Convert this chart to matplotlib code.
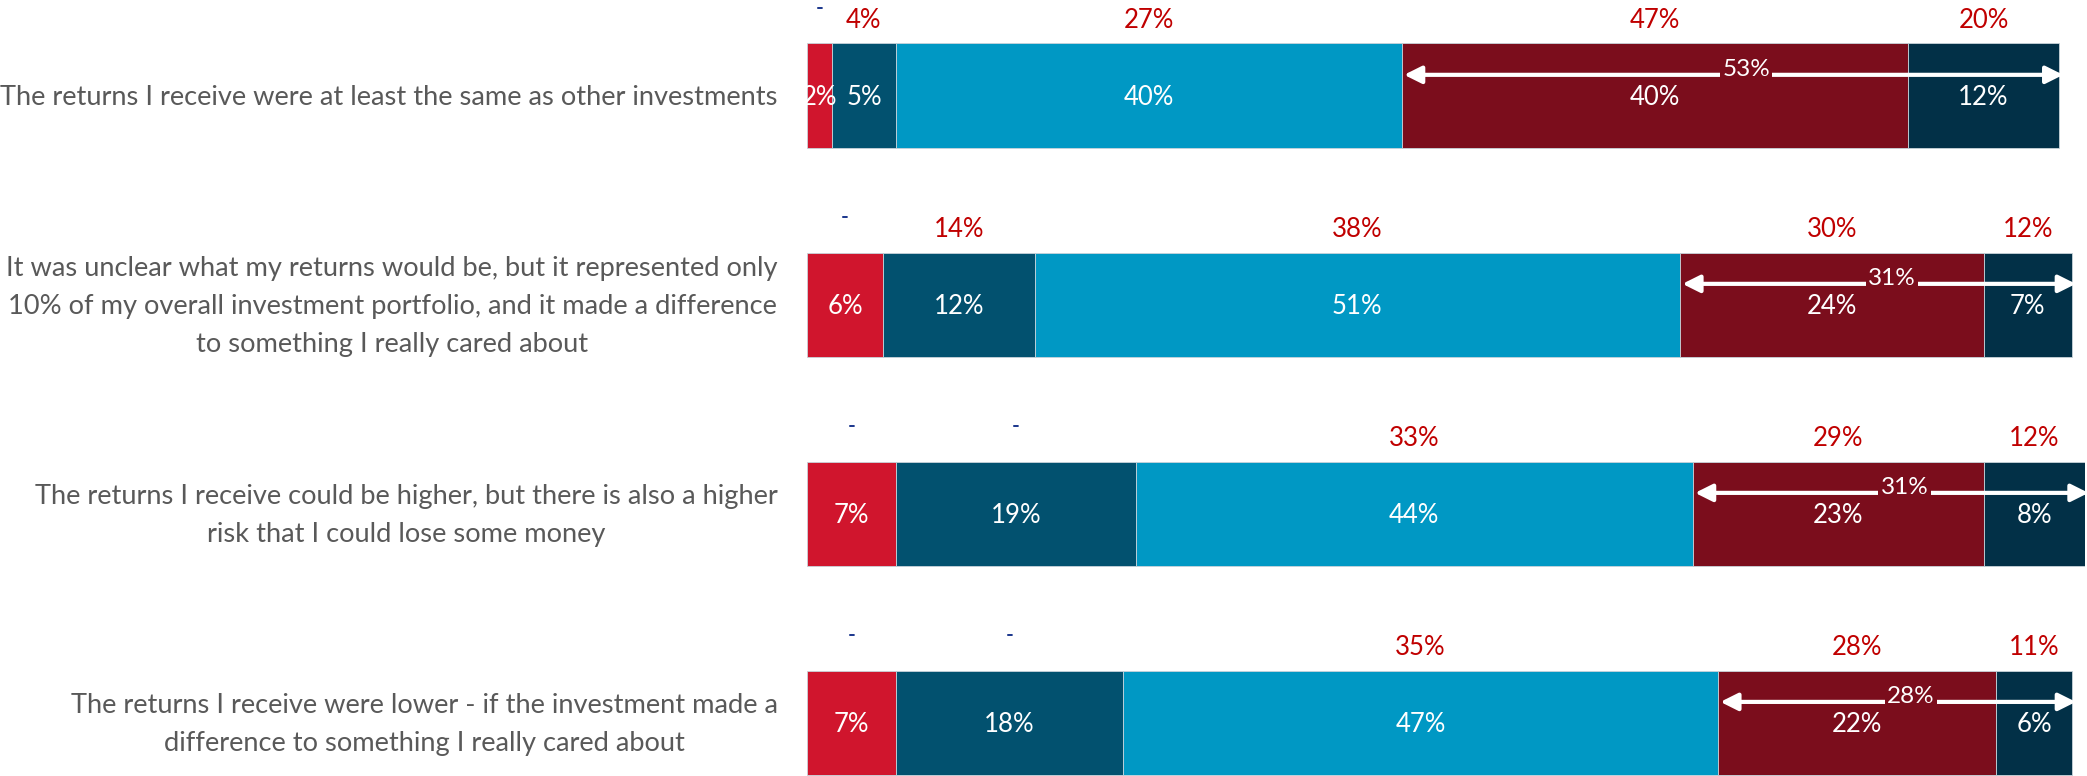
import numpy as np
import matplotlib.pyplot as plt

plt.rcParams['font.family'] = ['Lato', 'DejaVu Sans']

categories = [
    'The returns I receive were at least the same as other investments',
    'It was unclear what my returns would be, but it represented only\n'
    '10% of my overall investment portfolio, and it made a difference\n'
    'to something I really cared about',
    'The returns I receive could be higher, but there is also a higher\n'
    'risk that I could lose some money',
    'The returns I receive were lower - if the investment made a\n'
    'difference to something I really cared about',
]

# share of respondents per answer band (%), one list per band
band_1 = [2, 6, 7, 7]
band_2 = [5, 12, 19, 18]
band_3 = [40, 51, 44, 47]
band_4 = [40, 24, 23, 22]
band_5 = [12, 7, 8, 6]

# comparison figures shown above each band (None -> "-")
comp_1 = [None, None, None, None]
comp_2 = [4, 14, None, None]
comp_3 = [27, 38, 33, 35]
comp_4 = [47, 30, 29, 28]
comp_5 = [20, 12, 12, 11]

# combined top two bands
top_two = [53, 31, 31, 28]

bands = [band_1, band_2, band_3, band_4, band_5]
comps = [comp_1, comp_2, comp_3, comp_4, comp_5]
colors = ['#D0152D', '#02516F', '#0098C4', '#7B0D1C', '#023047']

fig = plt.figure(figsize=(20.87, 7.76), dpi=100)
ax = fig.add_axes([0.3867, 0.0, 0.6122, 1.0])

y = np.arange(len(categories))
left = np.zeros(len(categories))
for vals, comp, col in zip(bands, comps, colors):
    vals = np.array(vals, dtype=float)
    ax.barh(y, vals, left=left, height=0.5, color=col,
            edgecolor='#c8d3da', linewidth=0.6)
    centers = left + vals / 2
    for i in range(len(y)):
        ax.text(centers[i], y[i] + 0.01, f'{int(vals[i])}%', ha='center', va='center',
                color='white', fontsize=18.5)
        if comp[i] is None:
            ax.text(centers[i], y[i] - 0.42, '-', ha='center', va='center',
                    color='#1F3A8F', fontsize=15, fontweight='bold')
        else:
            ax.text(centers[i], y[i] - 0.36, f'{comp[i]}%', ha='center', va='center',
                    color='#C00000', fontsize=18.5)
    left += vals

# arrow spanning the two top bands
start_top = np.array(band_1) + np.array(band_2) + np.array(band_3)
for i in range(len(y)):
    x0 = start_top[i] + 0.2
    x1 = left[i] + 0.3
    ann = ax.annotate('', xy=(x0, y[i] - 0.1), xytext=(x1, y[i] - 0.1),
                      arrowprops=dict(arrowstyle='<|-|>', color='white', lw=3,
                                      mutation_scale=26, shrinkA=0, shrinkB=0),
                      annotation_clip=False)
    ann.arrow_patch.set_clip_on(False)
    ax.text((x0 + x1) / 2 + 1.0, y[i] - 0.125, f'{top_two[i]}%', ha='center', va='center',
            color='white', fontsize=17.5,
            bbox=dict(facecolor=colors[3], edgecolor='none', pad=1.5))

for i, cat in enumerate(categories):
    ax.text(-2.3, y[i] + 0.01, cat, ha='right', va='center', multialignment='center',
            color='#595959', fontsize=19.6, linespacing=1.65)

ax.set_xlim(0, 101)
ax.set_ylim(3.2545, -0.458)
ax.axis('off')

fig.savefig('out.png', dpi=100)
